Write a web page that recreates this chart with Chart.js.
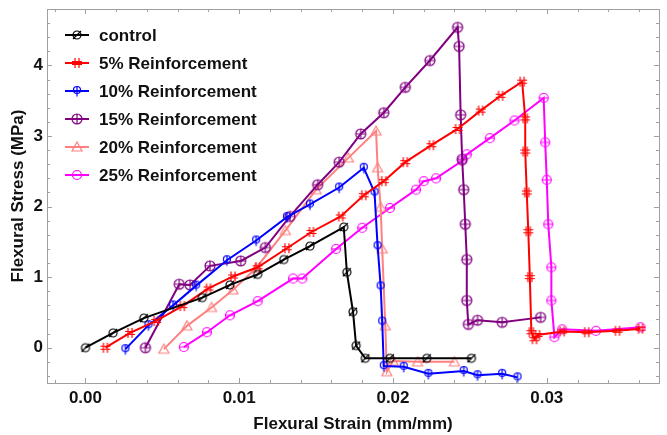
<!DOCTYPE html>
<html>
<head>
<meta charset="utf-8">
<script src="https://cdn.jsdelivr.net/npm/chart.js@4.4.1/dist/chart.umd.min.js"></script>
<style>
  html, body { margin: 0; padding: 0; background: #fff; }
</style>
</head>
<body>
<canvas id="flexChart" width="667" height="435"></canvas>
<script>
// series labels
var seriesNames = ["control", "5% Reinforcement", "10% Reinforcement", "15% Reinforcement", "20% Reinforcement", "25% Reinforcement"];

// flexural strain (mm/mm) and stress (MPa)
var controlStrain = [0, 0.0018, 0.0038, 0.0076, 0.0094, 0.0112, 0.0129, 0.0146, 0.0168, 0.0170, 0.0174, 0.0176, 0.0182, 0.0198, 0.0222, 0.0251];
var controlStress = [0, 0.21, 0.42, 0.71, 0.89, 1.04, 1.25, 1.44, 1.71, 1.07, 0.51, 0.03, -0.15, -0.15, -0.15, -0.15];

var r5Strain = [0.0013, 0.0029, 0.0046, 0.0063, 0.0080, 0.0096, 0.0112, 0.0131, 0.0147, 0.0166, 0.0181, 0.0194, 0.0208, 0.0225, 0.0242, 0.0257, 0.0270, 0.0284, 0.0286, 0.0286, 0.0287, 0.0288, 0.0289, 0.0290, 0.0292, 0.0294, 0.0310, 0.0326, 0.0346, 0.0361];
var r5Stress = [0, 0.21, 0.38, 0.59, 0.84, 1.01, 1.14, 1.41, 1.64, 1.86, 2.16, 2.36, 2.63, 2.87, 3.10, 3.36, 3.57, 3.77, 3.25, 2.78, 2.20, 1.65, 1.00, 0.22, 0.12, 0.18, 0.23, 0.22, 0.24, 0.27];

var r10Strain = [0.0026, 0.0041, 0.0057, 0.0072, 0.0092, 0.0111, 0.0131, 0.0146, 0.0165, 0.0181, 0.0188, 0.0190, 0.0192, 0.0193, 0.0194, 0.0207, 0.0223, 0.0246, 0.0255, 0.0271, 0.0281];
var r10Stress = [-0.02, 0.32, 0.60, 0.88, 1.24, 1.52, 1.85, 2.03, 2.27, 2.55, 2.20, 1.44, 0.87, 0.37, -0.26, -0.27, -0.37, -0.33, -0.39, -0.37, -0.42];

var r15Strain = [0.0039, 0.0061, 0.0068, 0.0081, 0.0101, 0.0117, 0.0133, 0.0151, 0.0165, 0.0179, 0.0194, 0.0208, 0.0224, 0.0242, 0.0243, 0.0244, 0.0245, 0.0246, 0.0247, 0.0248, 0.0248, 0.0249, 0.0255, 0.0271, 0.0296];
var r15Stress = [0, 0.90, 0.89, 1.16, 1.23, 1.42, 1.86, 2.31, 2.63, 3.03, 3.33, 3.69, 4.07, 4.54, 4.27, 3.30, 2.67, 2.24, 1.75, 1.25, 0.67, 0.33, 0.39, 0.36, 0.43];

var r20Strain = [0.0051, 0.0066, 0.0082, 0.0096, 0.0111, 0.0130, 0.0150, 0.0171, 0.0189, 0.0190, 0.0192, 0.0193, 0.0195, 0.0196, 0.0200, 0.0216, 0.0240];
var r20Stress = [-0.02, 0.31, 0.57, 0.82, 1.13, 1.66, 2.24, 2.69, 3.07, 2.55, 1.99, 1.40, 0.31, -0.34, -0.19, -0.20, -0.20];

var r25Strain = [0.0064, 0.0079, 0.0094, 0.0112, 0.0135, 0.0141, 0.0163, 0.0180, 0.0198, 0.0215, 0.0220, 0.0228, 0.0245, 0.0248, 0.0263, 0.0279, 0.0298, 0.0299, 0.0300, 0.0301, 0.0303, 0.0303, 0.0305, 0.0310, 0.0332, 0.0361];
var r25Stress = [0.01, 0.22, 0.46, 0.66, 0.98, 0.98, 1.40, 1.70, 1.98, 2.24, 2.36, 2.40, 2.65, 2.74, 2.97, 3.22, 3.54, 2.91, 2.38, 1.75, 1.14, 0.67, 0.15, 0.26, 0.24, 0.29];

// axis ticks
var xTickValues = [0, 0.01, 0.02, 0.03];
var yTickValues = [0, 1, 2, 3, 4];

var colors = ["#000000", "#ff0000", "#0000ff", "#800080", "#ff8080", "#ff00ff"];
var markerTypes = ["slash", "hash", "stem", "plus", "triangle", "theta"];
var fontFam = "'Liberation Sans', Arial, sans-serif";

function makeMarker(type, color) {
  var c = document.createElement("canvas");
  c.width = 14; c.height = 14;
  var g = c.getContext("2d");
  g.strokeStyle = color;
  g.lineWidth = 1.2;
  g.beginPath();
  if (type == "slash") {
    g.arc(7, 7, 4, 0, Math.PI * 2);
    g.moveTo(3, 11); g.lineTo(11, 3);
  } else if (type == "hash") {
    g.moveTo(5, 2); g.lineTo(5, 12);
    g.moveTo(9, 2); g.lineTo(9, 12);
    g.moveTo(2, 5.5); g.lineTo(12, 5.5);
    g.moveTo(2, 8.5); g.lineTo(12, 8.5);
  } else if (type == "stem") {
    g.arc(7, 6, 3.5, 0, Math.PI * 2);
    g.moveTo(7, 2.5); g.lineTo(7, 12.5);
  } else if (type == "plus") {
    g.arc(7, 7, 5, 0, Math.PI * 2);
    g.moveTo(2, 7); g.lineTo(12, 7);
    g.moveTo(7, 2); g.lineTo(7, 12);
  } else if (type == "triangle") {
    g.moveTo(7, 2); g.lineTo(12, 11); g.lineTo(2, 11); g.closePath();
  } else {
    g.arc(7, 7, 4.5, 0, Math.PI * 2);
    g.moveTo(2.5, 7); g.lineTo(11.5, 7);
  }
  g.stroke();
  return c;
}

function toPoints(xs, ys) {
  return xs.map(function (x, i) { return { x: x, y: ys[i] }; });
}

var allStrain = [controlStrain, r5Strain, r10Strain, r15Strain, r20Strain, r25Strain];
var allStress = [controlStress, r5Stress, r10Stress, r15Stress, r20Stress, r25Stress];

var datasets = seriesNames.map(function (name, i) {
  var m = makeMarker(markerTypes[i], colors[i]);
  return {
    label: name,
    data: toPoints(allStrain[i], allStress[i]),
    showLine: true,
    borderColor: colors[i],
    backgroundColor: colors[i],
    borderWidth: 2,
    pointStyle: m,
    pointRadius: 6,
    markerImg: m
  };
});

// frame with inward ticks like the original plot
var framePlugin = {
  id: "frame",
  afterDraw: function (chart) {
    var ctx = chart.ctx, a = chart.chartArea;
    var xs = chart.scales.x, ys = chart.scales.y;
    ctx.save();
    ctx.strokeStyle = "#a0a0a0";
    ctx.lineWidth = 1;
    ctx.strokeRect(a.left + 0.5, a.top + 0.5, a.right - a.left, a.bottom - a.top);
    ctx.beginPath();
    for (var k = -1; k <= 18; k++) {
      var v = k * 0.002;
      var px = Math.round(xs.getPixelForValue(v)) + 0.5;
      if (px < a.left || px > a.right) continue;
      var len = (k % 5 == 0) ? 5 : 3;
      ctx.moveTo(px, a.bottom); ctx.lineTo(px, a.bottom - len);
      ctx.moveTo(px, a.top); ctx.lineTo(px, a.top + len);
    }
    for (var j = -2; j <= 24; j++) {
      var w = j * 0.2;
      var py = Math.round(ys.getPixelForValue(w)) + 0.5;
      if (py < a.top || py > a.bottom) continue;
      var l2 = (j % 5 == 0) ? 5 : 3;
      ctx.moveTo(a.left, py); ctx.lineTo(a.left + l2, py);
      ctx.moveTo(a.right, py); ctx.lineTo(a.right - l2, py);
    }
    ctx.stroke();
    ctx.restore();
  }
};

// legend drawn inside the plot area, top left
var insideLegend = {
  id: "insideLegend",
  afterDraw: function (chart) {
    var ctx = chart.ctx, a = chart.chartArea;
    ctx.save();
    ctx.font = "bold 17px " + fontFam;
    ctx.textBaseline = "middle";
    chart.data.datasets.forEach(function (ds, i) {
      var y = a.top + 26 + i * 28;
      var x0 = a.left + 18;
      ctx.strokeStyle = ds.borderColor;
      ctx.lineWidth = 2;
      ctx.beginPath();
      ctx.moveTo(x0, y); ctx.lineTo(x0 + 24, y);
      ctx.stroke();
      ctx.drawImage(ds.markerImg, x0 + 12 - 7, y - 7);
      ctx.fillStyle = "#111";
      ctx.fillText(ds.label, x0 + 34, y + 1);
    });
    ctx.restore();
  }
};

var ctx = document.getElementById("flexChart").getContext("2d");
var flexChart = new Chart(ctx, {
  type: "scatter",
  data: { datasets: datasets },
  options: {
    responsive: false,
    animation: false,
    devicePixelRatio: 1,
    layout: { padding: { top: 9, right: 7, left: 0, bottom: 0 } },
    plugins: {
      legend: { display: false },
      tooltip: { enabled: false }
    },
    scales: {
      x: {
        type: "linear",
        min: -0.0025,
        max: 0.0373,
        afterBuildTicks: function (scale) {
          scale.ticks = xTickValues.map(function (v) { return { value: v }; });
        },
        afterFit: function (scale) {
          scale.height = 52;
          scale.paddingLeft = 0; scale.paddingRight = 0;
        },
        grid: { display: false, drawTicks: false },
        border: { display: false },
        ticks: {
          padding: 5,
          color: "#111",
          font: { family: fontFam, size: 17, weight: "bold" },
          callback: function (v) { return v.toFixed(2); }
        },
        title: {
          display: true,
          text: "Flexural Strain (mm/mm)",
          color: "#111",
          padding: { top: 2, bottom: 0 },
          font: { family: fontFam, size: 17, weight: "bold" }
        }
      },
      y: {
        type: "linear",
        min: -0.5,
        max: 4.8,
        afterBuildTicks: function (scale) {
          scale.ticks = yTickValues.map(function (v) { return { value: v }; });
        },
        afterFit: function (scale) {
          scale.width = 47;
          scale.paddingTop = 0; scale.paddingBottom = 0;
        },
        grid: { display: false, drawTicks: false },
        border: { display: false },
        ticks: {
          padding: 4,
          color: "#111",
          font: { family: fontFam, size: 17, weight: "bold" },
          callback: function (v) { return String(v); }
        },
        title: {
          display: true,
          text: "Flexural Stress (MPa)",
          color: "#111",
          padding: { top: 8, bottom: 0 },
          font: { family: fontFam, size: 17, weight: "bold" }
        }
      }
    }
  },
  plugins: [framePlugin, insideLegend]
});
</script>
</body>
</html>
